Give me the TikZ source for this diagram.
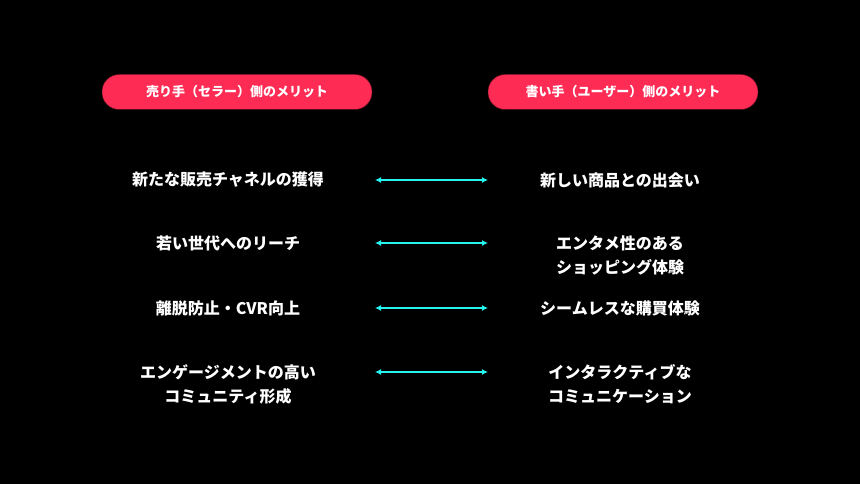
\documentclass[tikz,border=0pt]{standalone}
\usepackage{fontspec}
\setmainfont{Noto Sans CJK JP}
\usetikzlibrary{arrows.meta}
\definecolor{tkpink}{HTML}{FE2C55}
\definecolor{tkcyan}{HTML}{25F4EE}
\tikzset{pill/.style={draw=black!70!tkpink,fill=tkpink,rounded corners=17pt,minimum width=270pt,minimum height=35pt,text=white,font=\fontsize{13}{13}\selectfont\bfseries}}
\tikzset{item/.style={text=white,align=center,font=\fontsize{16}{24}\selectfont\bfseries}}
\tikzset{link/.style={tkcyan,line width=1.5pt,{Latex[length=6pt,width=6pt]}-{Latex[length=6pt,width=6pt]}}}
\begin{document}
\begin{tikzpicture}[x=1pt,y=-1pt]
        \fill[black] (0,0) rectangle (860,484);
        \useasboundingbox (0,0) rectangle (860,484);
        \node[pill] (seller) at (237,92) {売り手（セラー）側のメリット};
        \node[pill] (buyer) at (623,92) {書い手（ユーザー）側のメリット};
        % seller side
        \node[item] (s1) at (228,180) {新たな販売チャネルの獲得};
        \node[item] (s2) at (228,243) {若い世代へのリーチ};
        \node[item] (s3) at (228,308) {離脱防止・CVR向上};
        \node[item] (s4) at (228,384) {エンゲージメントの高い\\コミュニティ形成};
        % buyer side
        \node[item] (b1) at (620,180) {新しい商品との出会い};
        \node[item] (b2) at (620,255) {エンタメ性のある\\ショッピング体験};
        \node[item] (b3) at (620,308) {シームレスな購買体験};
        \node[item] (b4) at (620,384) {インタラクティブな\\コミュニケーション};
        % links
        \coordinate (l1) at (375,180); \coordinate (r1) at (488,180);
        \coordinate (l2) at (375,243); \coordinate (r2) at (488,243);
        \coordinate (l3) at (375,308); \coordinate (r3) at (488,308);
        \coordinate (l4) at (375,372); \coordinate (r4) at (488,372);
        \foreach \i in {1,...,4}
          \draw[link] (l\i) -- (r\i);
\end{tikzpicture}
\end{document}
